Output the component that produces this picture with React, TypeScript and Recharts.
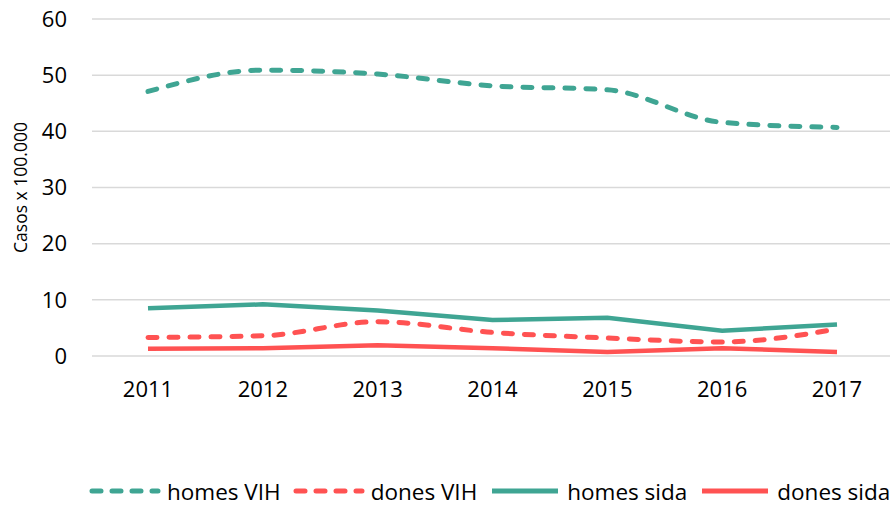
import { LineChart, Line, XAxis, YAxis, CartesianGrid, Legend } from "recharts"

const years = ["2011", "2012", "2013", "2014", "2015", "2016", "2017"]
const homesVih = [47.1, 50.9, 50.2, 48.1, 47.4, 41.6, 40.7]
const donesVih = [3.3, 3.6, 6.1, 4.2, 3.2, 2.5, 4.8]
const homesSida = [8.5, 9.2, 8.1, 6.4, 6.8, 4.5, 5.6]
const donesSida = [1.3, 1.4, 1.9, 1.4, 0.7, 1.4, 0.7]
const yTicks = [0, 10, 20, 30, 40, 50, 60]

const TEAL = "#3fa593"
const RED = "#ff5252"
const FONT = "'Open Sans', sans-serif"

const series = [
  { key: "homesVih", name: "homes VIH", color: TEAL, dashed: true },
  { key: "donesVih", name: "dones VIH", color: RED, dashed: true },
  { key: "homesSida", name: "homes sida", color: TEAL, dashed: false },
  { key: "donesSida", name: "dones sida", color: RED, dashed: false },
]

const data = years.map((year, i) => ({
  year,
  homesVih: homesVih[i],
  donesVih: donesVih[i],
  homesSida: homesSida[i],
  donesSida: donesSida[i],
}))

function LegendRow() {
  return (
    <div
      style={{
        display: "flex",
        justifyContent: "flex-start",
        alignItems: "center",
        height: 30,
        paddingLeft: 89,
        fontFamily: FONT,
        fontSize: 22.5,
        color: "#000",
        whiteSpace: "nowrap",
      }}
    >
      {series.map((s, i) => (
        <div key={s.key} style={{ display: "flex", alignItems: "center", marginLeft: i === 0 ? 0 : 12 }}>
          <svg width={72} height={10}>
            <line
              x1={3}
              y1={5}
              x2={69}
              y2={5}
              stroke={s.color}
              strokeWidth={5}
              strokeLinecap={s.dashed ? "round" : "butt"}
              strokeDasharray={s.dashed ? "9 11" : undefined}
            />
          </svg>
          <span style={{ marginLeft: 6 }}>{s.name}</span>
        </div>
      ))}
    </div>
  )
}

export default function App() {
  return (
    <div style={{ position: "absolute", left: 0, top: 0, background: "#fff" }}>
      <LineChart width={890} height={506} data={data} margin={{ top: 19, right: 0, left: 0, bottom: 0 }}>
        <CartesianGrid vertical={false} stroke="#d9d9d9" strokeWidth={1.5} />
        <XAxis
          dataKey="year"
          axisLine={false}
          tickLine={false}
          padding={{ left: 56, right: 53 }}
          height={120}
          tickMargin={19}
          tick={{ fontSize: 22, fill: "#000", fontFamily: FONT }}
        />
        <YAxis
          domain={[0, 60]}
          ticks={yTicks}
          width={92}
          axisLine={false}
          tickLine={false}
          tickMargin={19}
          tick={{ fontSize: 22, fill: "#000", fontFamily: FONT }}
          label={{
            content: ({ viewBox }: any) => {
              const x = viewBox.x + 20
              const y = viewBox.y + viewBox.height / 2
              return (
                <text
                  x={x}
                  y={y}
                  transform={`rotate(-90 ${x} ${y})`}
                  textAnchor="middle"
                  dominantBaseline="central"
                  fontSize={17.5}
                  fontFamily={FONT}
                  fill="#000"
                >
                  Casos x 100.000
                </text>
              )
            },
          }}
        />
        <Legend verticalAlign="bottom" content={() => <LegendRow />} />
        {series.map((s) => (
          <Line
            key={s.key}
            dataKey={s.key}
            name={s.name}
            type={s.dashed ? "monotone" : "linear"}
            stroke={s.color}
            strokeWidth={s.dashed ? 5 : 4.5}
            strokeDasharray={s.dashed ? "9 12" : undefined}
            strokeLinecap={s.dashed ? "round" : "butt"}
            dot={false}
            activeDot={false}
            isAnimationActive={false}
          />
        ))}
      </LineChart>
    </div>
  )
}
